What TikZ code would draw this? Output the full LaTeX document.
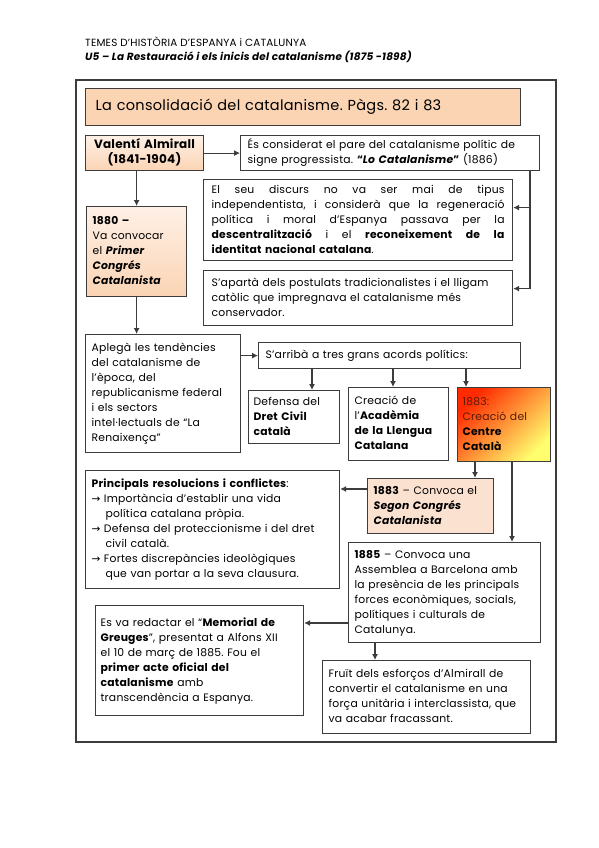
\documentclass[tikz,border=0pt]{standalone}
\usepackage{fontspec}
\setmainfont{Poppins}[LetterSpace=2]
\newfontfamily\djv{DejaVu Sans}
\usetikzlibrary{arrows.meta,calc}
\frenchspacing
\definecolor{peach}{HTML}{FBD4B4}
\definecolor{peachlt}{HTML}{FEF0E6}
\definecolor{peachmd}{HTML}{FBE2D0}
\definecolor{edge}{HTML}{3C3C3C}
\definecolor{brownred}{HTML}{5A1A08}
\definecolor{cred}{HTML}{FF2A00}
\definecolor{corange}{HTML}{FFB040}
\definecolor{cyellow}{HTML}{FFFF6E}
\tikzset{
  bx/.style={draw=edge, line width=1.2pt, rectangle, anchor=north west,
    inner xsep=8pt, inner ysep=2pt, align=left,
    font=\fontsize{10.8}{15}\selectfont},
  ln/.style={draw=edge, line width=1.1pt},
  arr/.style={ln, -{Latex[length=6pt,width=6pt]}},
}
\newcommand{\bi}[1]{\textbf{\textit{#1}}}
\newcommand{\rarr}{{\djv\fontsize{10.5}{15}\selectfont →}}
\newcommand{\ls}[1]{\begin{tabular}{@{}l@{}}#1\end{tabular}}
\newcommand{\cs}[1]{\begin{tabular}{@{}c@{}}#1\end{tabular}}
\newcommand{\jl}[1]{\hbox to 293pt{\spaceskip=0.28em plus 1fil\relax #1}}
\begin{document}
\begin{tikzpicture}[x=1pt,y=-1pt]
\useasboundingbox (0,0) rectangle (599,848);
\fill[white] (0,0) rectangle (599,848);

% header
\node[anchor=base west, inner sep=0pt, font=\fontsize{10.4}{12}\selectfont] (h1) at (85,47) {TEMES D’HISTÒRIA D’ESPANYA i CATALUNYA};
\node[anchor=base west, inner sep=0pt, font=\fontsize{10.4}{12}\selectfont] (h2) at (85,61) {\bi{U5 – La Restauració i els inicis del catalanisme (1875 -1898)}};

% outer frame
\draw[draw=edge, line width=1.5pt] (76,80) rectangle (556,742);

% title
\node[bx, fill=peach, minimum width=435pt, minimum height=37pt, text width=415pt, inner xsep=10pt,
  font=\fontsize{14.5}{18}\selectfont] (title) at (85,88) {La consolidació del catalanisme. Pàgs. 82 i 83};

\node[bx, top color=peachlt, bottom color=peach, minimum width=118pt, minimum height=35pt, text width=106pt,
  inner xsep=6pt, align=center, font=\fontsize{12}{15}\selectfont] (valenti) at (85,135) {\cs{\textbf{Valentí Almirall}\\\textbf{(1841-1904)}}};

\node[bx, fill=white, minimum width=299pt, minimum height=35pt, text width=285pt, inner xsep=7pt] (es) at (240,135)
 {\ls{És considerat el pare del catalanisme polític de\\signe progressista. \textbf{“\textit{Lo Catalanisme}”} (1886)}};

\node[bx, fill=white, minimum width=309pt, minimum height=81pt, text width=293pt] (elseu) at (203,179)
 {\ls{\jl{El seu discurs no va ser mai de tipus}\\
 \jl{independentista, i considerà que la regeneració}\\
 \jl{política i moral d’Espanya passava per la}\\
 \jl{\textbf{descentralització} i el \textbf{reconeixement de la}}\\
 \textbf{identitat nacional catalana}.}};

\node[bx, fill=white, minimum width=309pt, minimum height=55pt, text width=293pt] (apart) at (203,270)
 {\ls{S’apartà dels postulats tradicionalistes i el lligam\\catòlic que impregnava el catalanisme més\\conservador.}};

\node[bx, top color=peachlt, bottom color=peach, minimum width=100pt, minimum height=90pt, text width=88pt, inner xsep=6pt] (c1880) at (86,206)
 {\ls{\textbf{1880 –}\\Va convocar\\el \bi{Primer}\\\bi{Congrés}\\\bi{Catalanista}}};

\node[bx, fill=white, minimum width=155pt, minimum height=118pt, text width=143pt, inner xsep=6pt] (aplega) at (85,334)
 {\ls{Aplegà les tendències\\del catalanisme de\\l’època, del\\republicanisme federal\\i els sectors\\intel·lectuals de “La\\Renaixença”}};

\node[bx, fill=white, minimum width=262pt, minimum height=26pt, text width=248pt, inner xsep=7pt] (sarriba) at (258,342)
 {\ls{S’arribà a tres grans acords polítics:}};

\node[bx, fill=white, minimum width=91pt, minimum height=53pt, text width=81pt, inner xsep=5pt] (defensa) at (248,390)
 {\ls{Defensa del\\\textbf{Dret Civil}\\\textbf{català}}};

\node[bx, fill=white, minimum width=100pt, minimum height=73pt, text width=88pt, inner xsep=6pt] (academia) at (348,387)
 {\ls{Creació de\\l’\textbf{Acadèmia}\\\textbf{de la Llengua}\\\textbf{Catalana}}};

\node[bx, top color=cred, middle color=corange, bottom color=cyellow, shading angle=45,
  minimum width=93pt, minimum height=74pt, text width=83pt, inner xsep=5pt] (centre) at (457,387)
 {\ls{\textcolor{brownred}{1883:}\\\textcolor{brownred}{Creació del}\\\textbf{Centre}\\\textbf{Català}}};

\node[bx, fill=white, minimum width=254pt, minimum height=118pt, text width=242pt, inner xsep=6pt] (principals) at (85,470)
 {\ls{\textbf{Principals resolucions i conflictes}:\\
 \rarr\ Importància d’establir una vida\\
 \hspace*{14pt}política catalana pròpia.\\
 \rarr\ Defensa del proteccionisme i del dret\\
 \hspace*{14pt}civil català.\\
 \rarr\ Fortes discrepàncies ideològiques\\
 \hspace*{14pt}que van portar a la seva clausura.}};

\node[bx, fill=peachmd, minimum width=126pt, minimum height=55pt, text width=114pt, inner xsep=6pt] (segon) at (367,478)
 {\ls{\textbf{1883} – Convoca el\\\bi{Segon Congrés}\\\bi{Catalanista}}};

\node[bx, fill=white, minimum width=192pt, minimum height=100pt, text width=180pt, inner xsep=6pt] (c1885) at (348,542)
 {\ls{\textbf{1885} – Convoca una\\Assemblea a Barcelona amb\\la presència de les principals\\forces econòmiques, socials,\\polítiques i culturals de\\Catalunya.}};

\node[bx, fill=white, minimum width=208pt, minimum height=110pt, text width=198pt, inner xsep=5pt] (memorial) at (95,605)
 {\ls{Es va redactar el “\textbf{Memorial de}\\\textbf{Greuges}”, presentat a Alfons XII\\el 10 de març de 1885. Fou el\\\textbf{primer acte oficial del}\\\textbf{catalanisme} amb\\transcendència a Espanya.}};

\node[bx, fill=white, minimum width=208pt, minimum height=73pt, text width=196pt, inner xsep=6pt] (fruit) at (322,660)
 {\ls{Fruït dels esforços d’Almirall de\\convertir el catalanisme en una\\força unitària i interclassista, que\\va acabar fracassant.}};

% helper coordinates
\coordinate (xr) at (530,0);
\coordinate (xd) at (312,0);
\coordinate (xa) at (393,0);
\coordinate (xc) at (466,0);
\coordinate (xs) at (475,0);
\coordinate (xq) at (512,0);
\coordinate (xf) at (375,0);
\coordinate (ys) at (0,489);
\coordinate (ym) at (0,623);
\coordinate (a1) at ([yshift=12.5pt]elseu.east);
\coordinate (a2) at ([yshift=9.5pt]apart.east);

% connectors
\draw[arr] (valenti.east) -- (es.west |- valenti.east);
\draw[arr] (valenti.south -| c1880.north) -- (c1880.north);
\draw[ln] (es.south -| xr) -- (xr |- a2);
\draw[arr] (xr |- a1) -- (a1);
\draw[arr] (xr |- a2) -- (a2);
\draw[arr] (c1880.south) -- (aplega.north -| c1880.south);
\draw[arr] (aplega.east |- sarriba.west) -- (sarriba.west);
\draw[arr] (sarriba.south -| xd) -- (defensa.north -| xd);
\draw[arr] (sarriba.south -| xa) -- (academia.north -| xa);
\draw[arr] (sarriba.south -| xc) -- (centre.north -| xc);
\draw[arr] (centre.south -| xs) -- (segon.north -| xs);
\draw[arr] (centre.south -| xq) -- (c1885.north -| xq);
\draw[arr] (segon.west |- ys) -- (principals.east |- ys);
\draw[arr] (c1885.west |- ym) -- (memorial.east |- ym);
\draw[arr] (c1885.south -| xf) -- (fruit.north -| xf);
\end{tikzpicture}
\end{document}
